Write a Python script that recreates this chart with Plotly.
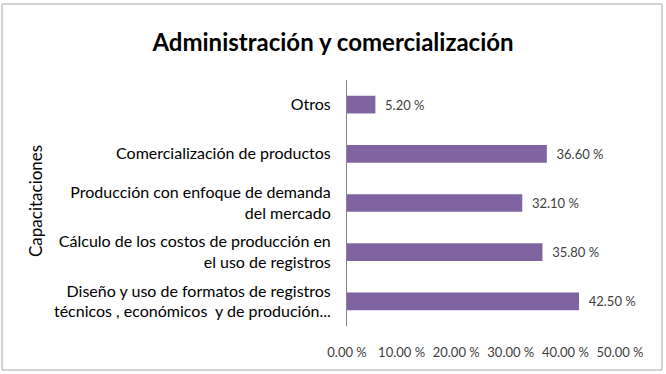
import plotly.graph_objects as go

categories = [
    "Diseño y uso de formatos de registros<br>técnicos , económicos  y de produción...",
    "Cálculo de los costos de producción en<br>el uso de registros",
    "Producción con enfoque de demanda<br>del mercado",
    "Comercialización de productos",
    "Otros",
]
values = [42.5, 35.8, 32.1, 36.6, 5.2]
x_ticks = [0, 10, 20, 30, 40, 50]
x_tick_labels = ["0.00 %", "10.00 %", "20.00 %", "30.00 %", "40.00 %", "50.00 %"]

FONT = "Lato, Open Sans, sans-serif"
W, H = 666, 374
L, R, T, B = 347, 46, 80, 48
pw = W - L - R
ph = H - T - B

fig = go.Figure(go.Bar(
    x=values, y=categories, orientation="h",
    marker=dict(color="#8064A2", line=dict(width=0)),
    text=[f"\u00a0\u00a0{v:.2f} %" for v in values],
    textposition="outside",
    textfont=dict(family=FONT, size=13, color="#404040"),
    cliponaxis=False,
    width=0.36,
))

fig.update_layout(
    width=W, height=H,
    margin=dict(l=L, r=R, t=T, b=B),
    paper_bgcolor="white", plot_bgcolor="white",
    showlegend=False,
    title=dict(text="<b>Administración y comercialización</b>", x=333 / W, xref="container",
               y=1 - 43 / H, yref="container", yanchor="middle", xanchor="center",
               font=dict(family=FONT, size=24, color="#000000")),
    font=dict(family=FONT, color="#000000"),
)

fig.update_xaxes(
    range=[0, 50], tickvals=x_ticks, ticktext=x_tick_labels,
    showgrid=False, zeroline=False, showline=False,
    ticks="outside", ticklen=0, ticklabelstandoff=14,
    tickfont=dict(family=FONT, size=13, color="#404040"),
)
fig.update_yaxes(
    categoryorder="array", categoryarray=categories,
    showgrid=False, zeroline=False, showline=True, linecolor="#868686", linewidth=1,
    ticks="outside", ticklen=0, ticklabelstandoff=12,
    tickfont=dict(family=FONT, size=16, color="#000000"),
)

fig.add_annotation(
    text="Capacitaciones", textangle=-90, showarrow=False,
    xref="paper", yref="paper",
    x=(35 - L) / pw, y=(H - B - 201) / ph,
    xanchor="center", yanchor="middle",
    font=dict(family=FONT, size=17, color="#000000"),
)

fig.add_shape(
    type="rect", xref="paper", yref="paper",
    x0=(2 - L) / pw, x1=(662 - L) / pw,
    y0=(H - B - 370) / ph, y1=(H - B - 4) / ph,
    line=dict(color="#A6A6A6", width=1), fillcolor="rgba(0,0,0,0)", layer="below",
)

fig.write_html("out.html", config={"displayModeBar": False},
               post_script="document.body.style.margin='0';")
